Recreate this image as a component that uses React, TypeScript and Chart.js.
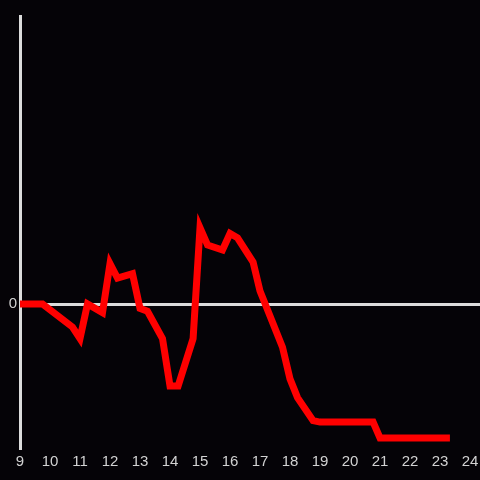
import React, { useEffect, useRef } from "react";
import { Chart, registerables } from "chart.js";

Chart.register(...registerables);

const hours = [9, 9.75, 10.75, 11, 11.25, 11.75, 12, 12.25, 12.75, 13, 13.25, 13.75, 14, 14.27, 14.77, 15, 15.25, 15.75, 16, 16.25, 16.77, 17, 17.75, 18, 18.25, 18.77, 19, 20.77, 21, 23.33];
const values = [0, 0, -0.16, -0.24, 0, -0.06, 0.28, 0.18, 0.21, -0.03, -0.05, -0.24, -0.57, -0.57, -0.24, 0.53, 0.41, 0.375, 0.49, 0.46, 0.29, 0.09, -0.3, -0.52, -0.65, -0.81, -0.82, -0.82, -0.93, -0.93];
const xTicks = [9, 10, 11, 12, 13, 14, 15, 16, 17, 18, 19, 20, 21, 22, 23, 24];
const yTicks = [0];
const xMin = 9;
const xMax = 24.333;
const yMin = -1;
const yMax = 2;

const BG = "#050307";
const AXIS = "#dcdcdc";
const TEXT = "#d2d2d2";

export default function App() {
  const ref = useRef<HTMLCanvasElement>(null);
  useEffect(() => {
    document.body.style.margin = "0";
    document.body.style.background = BG;
    const ctx = ref.current!;
    const chart = new Chart(ctx, {
      type: "line",
      data: {
        datasets: [
          {
            data: hours.map((h, i) => ({ x: h, y: values[i] })),
            borderColor: "#ff0000",
            borderWidth: 7,
            pointRadius: 0,
            tension: 0,
            fill: false,
          },
        ],
      },
      options: {
        responsive: false,
        animation: false,
        layout: { padding: { top: 16, right: 0, left: 0, bottom: 0 } },
        plugins: { legend: { display: false }, tooltip: { enabled: false } },
        scales: {
          x: {
            type: "linear",
            min: xMin,
            max: xMax,
            afterBuildTicks: (s: any) => {
              s.ticks = xTicks.map((v) => ({ value: v }));
            },
            afterFit: (s: any) => {
              s.height = 32;
              s.paddingLeft = 0;
              s.paddingRight = 0;
            },
            ticks: {
              color: TEXT,
              font: { family: "Liberation Sans", size: 15 },
              padding: 5,
              maxRotation: 0,
              autoSkip: false,
            },
            grid: { display: false, drawTicks: false },
            border: { display: false },
          },
          y: {
            type: "linear",
            min: yMin,
            max: yMax,
            afterBuildTicks: (s: any) => {
              s.ticks = yTicks.map((v) => ({ value: v }));
            },
            afterFit: (s: any) => {
              s.width = 20;
              s.paddingTop = 0;
              s.paddingBottom = 0;
            },
            ticks: {
              color: TEXT,
              font: { family: "Liberation Sans", size: 15 },
              padding: 3,
            },
            grid: { color: AXIS, lineWidth: 3, drawTicks: false },
            border: { display: true, color: AXIS, width: 3 },
          },
        },
      },
    });
    return () => chart.destroy();
  }, []);
  return (
    <div style={{ width: 480, height: 480, background: BG }}>
      <canvas ref={ref} width={480} height={480} />
    </div>
  );
}
